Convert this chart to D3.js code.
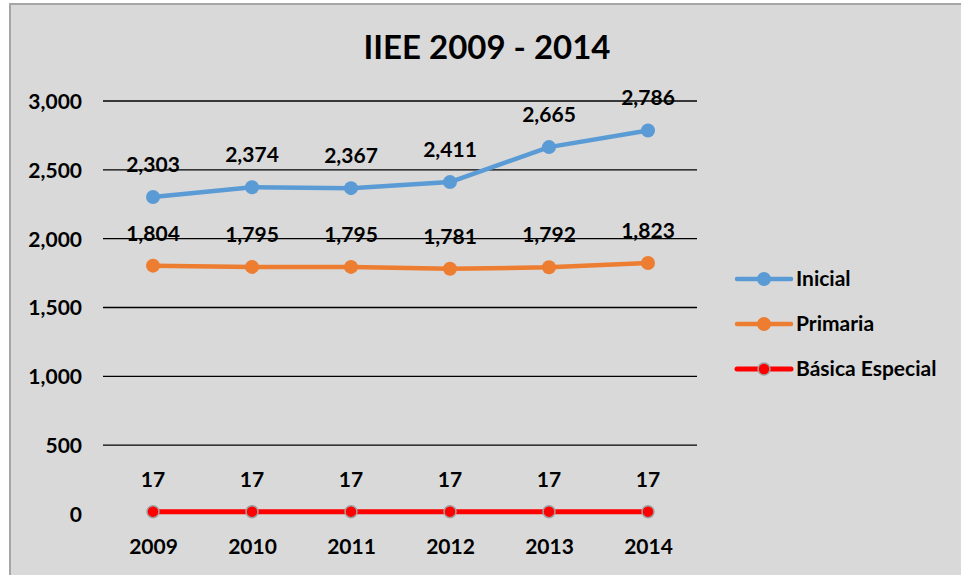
<!DOCTYPE html>
<html><head><meta charset="utf-8">
<script src="https://cdn.jsdelivr.net/npm/d3@7"></script>
<style>html,body{margin:0;padding:0;background:#fff;}svg{display:block;font-family:Lato,"Open Sans",sans-serif;font-weight:bold;}</style>
</head><body>
<svg id="c" width="961" height="575"></svg>
<script>
const years = ["2009","2010","2011","2012","2013","2014"];
const inicial = [2303,2374,2367,2411,2665,2786];
const primaria = [1804,1795,1795,1781,1792,1823];
const basica = [17,17,17,17,17,17];
const yTicks = [0,500,1000,1500,2000,2500,3000];
const seriesNames = ["Inicial","Primaria","Básica Especial"];
const seriesColors = ["#5b9bd5","#ed7d31","#ff0000"];

const svg = d3.select("#c");
svg.append("rect").attr("x",10).attr("y",4).attr("width",960).attr("height",580)
  .attr("fill","#d9d9d9").attr("stroke","#a6a6a6").attr("stroke-width",2);

svg.append("text").attr("x",487).attr("y",59).attr("text-anchor","middle")
  .attr("font-size",33).attr("fill","#000").text("IIEE 2009 - 2014");

const x = d3.scalePoint().domain(years).range([153,648]);
const y = d3.scaleLinear().domain([0,3000]).range([514,101]);

// gridlines
svg.append("g").selectAll("line").data(yTicks.filter(d=>d>0)).join("line")
  .attr("x1",103).attr("x2",697).attr("y1",d=>y(d)).attr("y2",d=>y(d))
  .attr("stroke","#000").attr("stroke-width",1.3);

// y axis labels
const yAxis = d3.axisLeft(y).tickValues(yTicks).tickFormat(d3.format(",")).tickSize(0).tickPadding(0);
const ya = svg.append("g").attr("transform","translate(82,0)").call(yAxis);
ya.select(".domain").remove();
ya.selectAll("text").attr("font-size",21).attr("font-family","Lato").attr("font-weight","bold").attr("fill","#000").attr("dy","0.35em");

// x axis labels
const xAxis = d3.axisBottom(x).tickSize(0).tickPadding(0);
const xa = svg.append("g").attr("transform","translate(0,547)").call(xAxis);
xa.select(".domain").remove();
xa.selectAll("text").attr("font-size",21).attr("font-family","Lato").attr("font-weight","bold").attr("fill","#000").attr("dy","0.35em");

const all = [inicial, primaria, basica];
const widths = [4.5,4.5,5];
const line = d3.line().x((d,i)=>x(years[i])).y(d=>y(d));
all.forEach((vals,si)=>{
  const g = svg.append("g");
  g.append("path").attr("d",line(vals)).attr("fill","none")
    .attr("stroke",seriesColors[si]).attr("stroke-width",widths[si]).attr("stroke-linejoin","round");
  g.selectAll("circle").data(vals).join("circle")
    .attr("cx",(d,i)=>x(years[i])).attr("cy",d=>y(d)).attr("r",si===2?6:7)
    .attr("fill",seriesColors[si])
    .attr("stroke",si===2?"#a0a0a0":"none").attr("stroke-width",1.5);
  g.selectAll("text").data(vals).join("text")
    .attr("x",(d,i)=>x(years[i])).attr("y",d=>y(d)-25)
    .attr("text-anchor","middle").attr("font-size",21).attr("fill","#000")
    .text(d=>d3.format(",")(d));
});

// legend
const lg = svg.append("g");
seriesNames.forEach((n,i)=>{
  const yy = 279 + i*45;
  lg.append("line").attr("x1",737).attr("x2",791).attr("y1",yy).attr("y2",yy)
    .attr("stroke",seriesColors[i]).attr("stroke-width",widths[i]).attr("stroke-linecap","round");
  lg.append("circle").attr("cx",764).attr("cy",yy).attr("r",i===2?6:7).attr("fill",seriesColors[i])
    .attr("stroke",i===2?"#a0a0a0":"none").attr("stroke-width",1.5);
  lg.append("text").attr("x",796).attr("y",yy).attr("dy","0.35em").attr("font-size",21).attr("fill","#000").text(n);
});
</script>
</body></html>
